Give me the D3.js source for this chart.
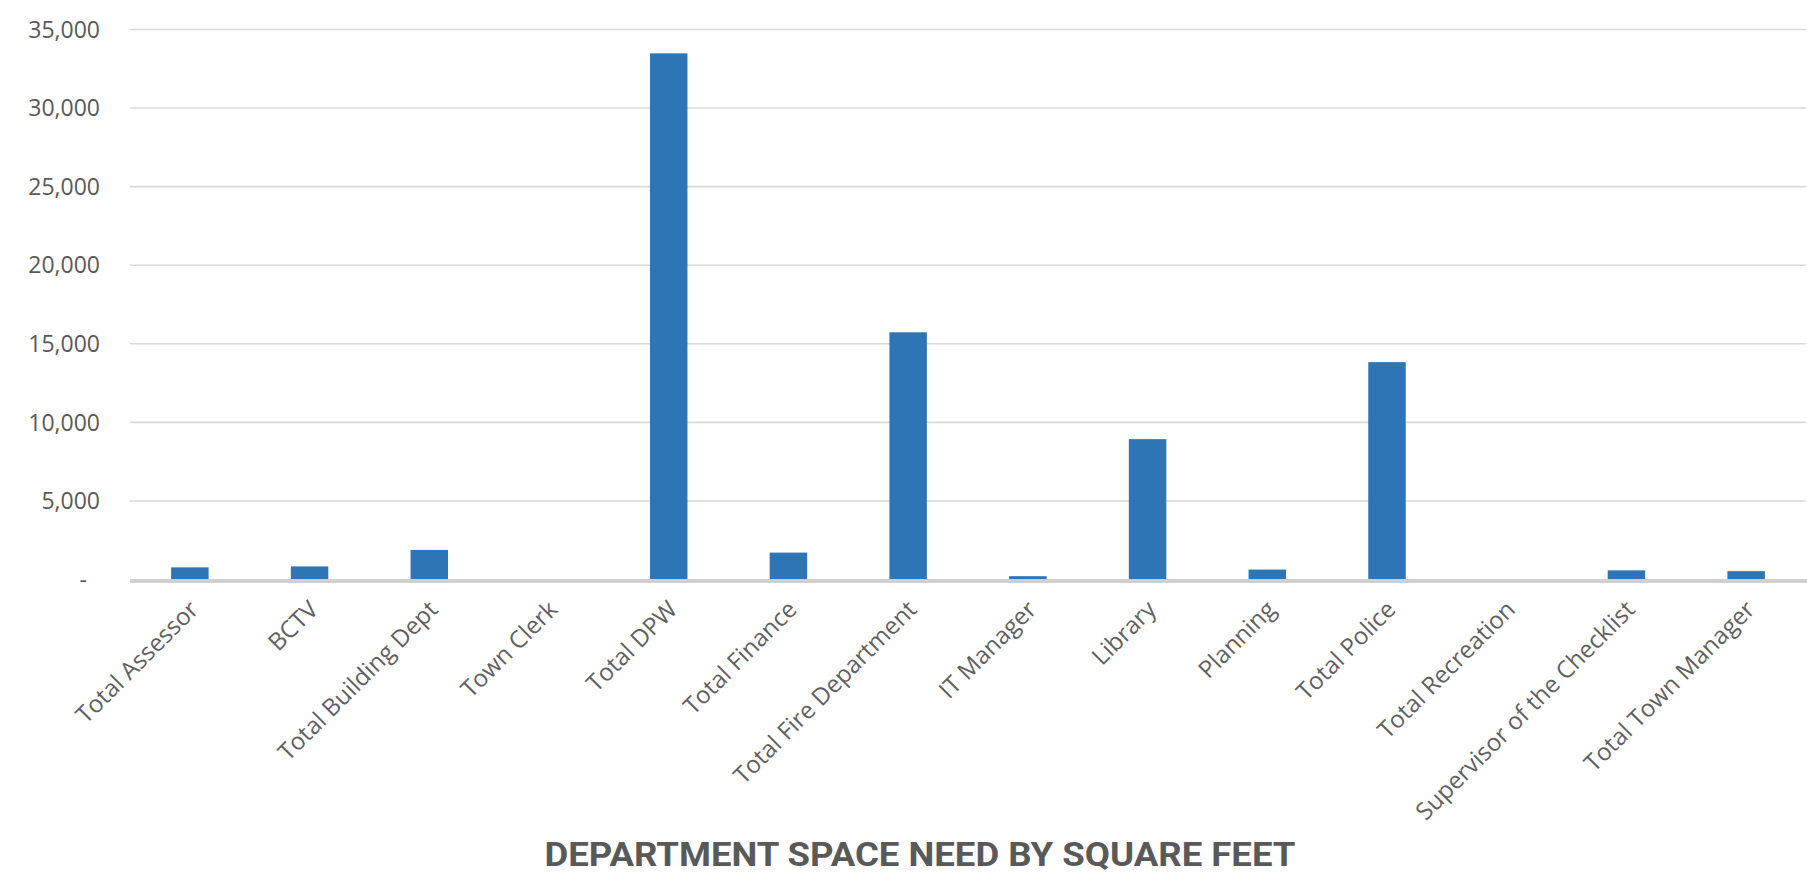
<!DOCTYPE html>
<html>
<head>
<meta charset="utf-8">
<script src="https://cdn.jsdelivr.net/npm/d3@7"></script>
<style>
  html, body { margin: 0; padding: 0; background: #ffffff; }
  svg { display: block; }
</style>
</head>
<body>
<svg id="chart" width="1807" height="873"></svg>
<script>
const categories = [
  "Total Assessor", "BCTV", "Total Building Dept", "Town Clerk", "Total DPW",
  "Total Finance", "Total Fire Department", "IT Manager", "Library", "Planning",
  "Total Police", "Total Recreation", "Supervisor of the Checklist", "Total Town Manager"
];
const values = [740, 800, 1850, 0, 33450, 1680, 15700, 180, 8900, 600, 13800, 0, 550, 500];
const yTicks = [0, 5000, 10000, 15000, 20000, 25000, 30000, 35000];
const yTickLabels = ["-", "5,000", "10,000", "15,000", "20,000", "25,000", "30,000", "35,000"];
const chartTitle = "DEPARTMENT SPACE NEED BY SQUARE FEET";

const W = 1807, H = 873;
const plot = { left: 130, right: 1806, top: 29, bottom: 579 };

const svg = d3.select("#chart");

const x = d3.scaleBand()
  .domain(categories)
  .range([plot.left, plot.right])
  .paddingInner(0.687)
  .paddingOuter(0.3435);

const y = d3.scaleLinear()
  .domain([0, 35000])
  .range([plot.bottom, plot.top]);

// gridlines
const yAxisGrid = d3.axisLeft(y)
  .tickValues(yTicks.filter(d => d !== 0))
  .tickSize(-(plot.right - plot.left))
  .tickFormat("");
svg.append("g")
  .attr("transform", `translate(${plot.left},0)`)
  .call(yAxisGrid)
  .call(g => g.select(".domain").remove())
  .call(g => g.selectAll("line").attr("stroke", "#d9d9d9").attr("stroke-width", 1.6));

// y tick labels
const yAxisLabels = d3.axisLeft(y)
  .tickValues(yTicks)
  .tickSize(0)
  .tickPadding(30)
  .tickFormat((d, i) => yTickLabels[i]);
svg.append("g")
  .attr("transform", `translate(${plot.left},0)`)
  .call(yAxisLabels)
  .call(g => g.select(".domain").remove())
  .call(g => g.selectAll("text")
    .attr("fill", "#595959")
    .attr("font-family", "'Open Sans', sans-serif")
    .attr("font-size", 23)
    .attr("dx", d => d === 0 ? -13 : 0)
    .attr("dy", "0.36em"));

// bars
svg.append("g")
  .selectAll("rect")
  .data(values)
  .join("rect")
  .attr("x", (d, i) => x(categories[i]))
  .attr("width", x.bandwidth())
  .attr("y", d => y(d))
  .attr("height", d => y(0) - y(d))
  .attr("fill", "#2e75b6");

// x axis line
const xAxis = d3.axisBottom(x).tickSize(0).tickFormat("");
svg.append("g")
  .attr("transform", `translate(0,${y(0) + 2})`)
  .call(xAxis)
  .call(g => g.select(".domain")
    .attr("d", `M${plot.left},0H${W}`)
    .attr("stroke", "#d0d0d0")
    .attr("stroke-width", 4));

// x labels rotated -45
const labelG = svg.append("g");
const labels = labelG.selectAll("text")
  .data(categories)
  .join("text")
  .attr("text-anchor", "end")
  .attr("fill", "#5f5f5f")
  .attr("font-family", "'Open Sans', sans-serif")
  .attr("font-size", 20)
  .text(d => d);

// scale font so the longest label spans the measured diagonal
const longest = labels.filter(d => d === "Supervisor of the Checklist").node();
const len20 = longest.getComputedTextLength();
const fs = 20 * 298 / len20;
labels.attr("font-size", fs)
  .attr("transform", d => {
    const cx = x(d) + x.bandwidth() / 2 + 10;
    const cy = y(0) + 32;
    return `translate(${cx},${cy}) rotate(-45)`;
  });

// title
svg.append("text")
  .attr("x", 920)
  .attr("y", 866)
  .attr("text-anchor", "middle")
  .attr("fill", "#595959")
  .attr("font-family", "Roboto, 'Liberation Sans', sans-serif")
  .attr("font-weight", 700)
  .attr("font-size", 34)
  .attr("textLength", 751)
  .attr("lengthAdjust", "spacingAndGlyphs")
  .text(chartTitle);
</script>
</body>
</html>
